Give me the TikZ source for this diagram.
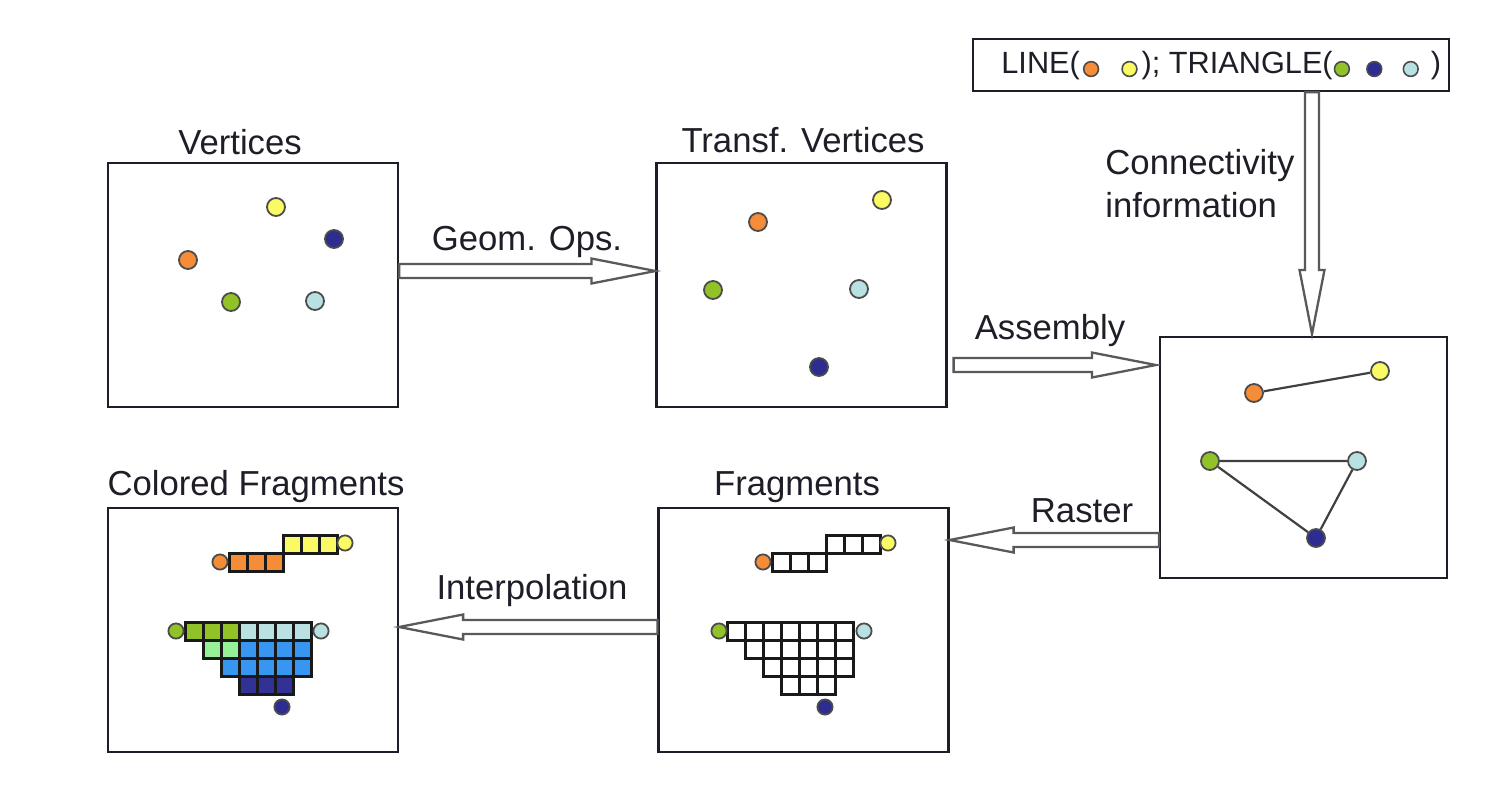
\documentclass[tikz,border=0pt]{standalone}
\usepackage{fontspec}
\setmainfont{Liberation Sans}
\usetikzlibrary{calc,positioning}

\definecolor{vorange}{RGB}{245,140,55}
\definecolor{vyellow}{RGB}{250,250,100}
\definecolor{vgreen}{RGB}{145,195,40}
\definecolor{vnavy}{RGB}{45,45,145}
\definecolor{vlblue}{RGB}{185,225,225}
\definecolor{flgreen}{RGB}{150,240,150}
\definecolor{fblue}{RGB}{55,150,240}
\definecolor{fnavy}{RGB}{50,50,150}
\definecolor{ink}{RGB}{30,30,40}

\tikzset{
  panel/.style={draw=ink, line width=1.1pt, minimum width=145pt, minimum height=122pt, inner sep=0pt},
  lbl/.style={font=\fontsize{17.35}{21.5}\selectfont, text=ink, anchor=base, inner sep=0pt},
  vtx/.style={circle, draw=black!70, line width=0.9pt, minimum size=9pt, inner sep=0pt, fill=#1},
  fvtx/.style={circle, draw=black!70, line width=0.9pt, minimum size=7.6pt, inner sep=0pt, fill=#1},
  cell/.style={draw=black!90, line width=1.5pt},
  edge/.style={draw=black!75, line width=1.1pt},
  hollow/.style={draw=black!65, line width=1.15pt, fill=white}
}

% small dot inside the text of the top box
\newcommand\vdot[1]{\tikz[baseline=-2pt]\draw[fill=#1, draw=black!70, line width=0.8pt] (0,0) circle (3.7pt);}

% hollow arrow from #1 to #2
\newcommand\fatarrow[2]{%
  \draw[hollow] let \p1=(#1), \p2=(#2), \n1={atan2(\y2-\y1,\x2-\x1)}, \n2={veclen(\x2-\x1,\y2-\y1)} in
    [shift={(\p1)}, rotate=\n1] (0pt,3.5pt) -- (\n2-32pt,3.5pt) -- (\n2-32pt,6.25pt) -- (\n2,0pt)
    -- (\n2-32pt,-6.25pt) -- (\n2-32pt,-3.5pt) -- (0pt,-3.5pt) -- cycle;}

% cells of the triangle: column/row/colour
\newcommand\trilist{0/0/vgreen,1/0/vgreen,2/0/vgreen,3/0/vlblue,4/0/vlblue,5/0/vlblue,6/0/vlblue,%
1/1/flgreen,2/1/flgreen,3/1/fblue,4/1/fblue,5/1/fblue,6/1/fblue,%
2/2/fblue,3/2/fblue,4/2/fblue,5/2/fblue,6/2/fblue,3/3/fnavy,4/3/fnavy,5/3/fnavy}

\begin{document}
\begin{tikzpicture}[x=0.5pt, y=-0.5pt]
\useasboundingbox (0,0) rectangle (1504,800);

% panels
\node[panel] (verts) at (253,285) {};
\node[panel] (tverts) at (801.5,285) {};
\node[panel, minimum width=143.5pt, minimum height=120.5pt] (asm) at (1303.5,457.5) {};
\node[panel] (cfrag) at (253,630) {};
\node[panel] (frag) at (803.5,630) {};
\node[draw=ink, line width=1.1pt, minimum width=238pt, minimum height=26pt, inner sep=0pt] (conn) at (1211,65) {};

% titles
\node[lbl] (tverts-l) at (240,154) {Vertices};
\node[lbl] (ttverts-l) at (803,152) {Transf. Vertices};
\node[lbl] (tcfrag-l) at (256,495) {Colored Fragments};
\node[lbl] (tfrag-l) at (797,495) {Fragments};

\node[anchor=base west, inner sep=0pt, text=ink, font=\fontsize{15.35}{18}\selectfont] (conn-t) at (1001,73)
  {LINE(\hspace{1.5pt}\vdot{vorange}\hspace{11pt}\vdot{vyellow}\hspace{2pt}); TRIANGLE(\hspace{0.5pt}\vdot{vgreen}\hspace{8pt}\vdot{vnavy}\hspace{10pt}\vdot{vlblue}\hspace{6pt})};

% vertices
\node[vtx=vyellow] (vy) at (276,207) {};
\node[vtx=vnavy] (vn) at (334,239) {};
\node[vtx=vorange] (vo) at (188,260) {};
\node[vtx=vgreen] (vg) at (231,302) {};
\node[vtx=vlblue] (vl) at (315,301) {};

% transformed vertices
\node[vtx=vorange] (to) at (758,222) {};
\node[vtx=vyellow] (ty) at (882,200) {};
\node[vtx=vgreen] (tg) at (713,290) {};
\node[vtx=vlblue] (tl) at (859,289) {};
\node[vtx=vnavy] (tn) at (819,367) {};

% assembled primitives
\node[vtx=vorange] (ao) at (1254,393) {};
\node[vtx=vyellow] (ay) at (1380,371) {};
\node[vtx=vgreen] (ag) at (1210,461) {};
\node[vtx=vlblue] (al) at (1357,461) {};
\node[vtx=vnavy] (an) at (1316,538) {};
\draw[edge] (ao) -- (ay);
\draw[edge] (ag) -- (al) -- (an) -- (ag);

% colored fragments
\foreach \i/\j/\c in \trilist
  \draw[cell, fill=\c] (185+18*\i,622+18*\j) rectangle ++(18,18);
\foreach \i in {0,1,2} {
  \draw[cell, fill=vorange] (229+18*\i,553) rectangle ++(18,18);
  \draw[cell, fill=vyellow] (283+18*\i,535) rectangle ++(18,18);
}
\node[fvtx=vorange] (co) at (220,562) {};
\node[fvtx=vyellow] (cy) at (345,543) {};
\node[fvtx=vgreen] (cg) at (176,631) {};
\node[fvtx=vlblue] (cl) at (321,631) {};
\node[fvtx=vnavy] (cn) at (282,707) {};

% fragments
\foreach \i/\j/\c in \trilist
  \draw[cell, fill=white] (727+18*\i,622+18*\j) rectangle ++(18,18);
\foreach \i in {0,1,2} {
  \draw[cell, fill=white] (772+18*\i,553) rectangle ++(18,18);
  \draw[cell, fill=white] (826+18*\i,535) rectangle ++(18,18);
}
\node[fvtx=vorange] (fo) at (763,562) {};
\node[fvtx=vyellow] (fy) at (888,543) {};
\node[fvtx=vgreen] (fg) at (719,631) {};
\node[fvtx=vlblue] (fl) at (864,631) {};
\node[fvtx=vnavy] (fn) at (825,707) {};

% arrows
\fatarrow{[yshift=7pt]verts.east}{[yshift=7pt]tverts.west}
\fatarrow{[xshift=3pt, yshift=-40pt]tverts.east}{[xshift=-1.5pt, yshift=46.25pt]asm.west}
\fatarrow{[xshift=50.5pt]conn.south}{[xshift=4.25pt, yshift=1pt]asm.north}
\fatarrow{[yshift=-41.25pt]asm.west}{[yshift=45pt]frag.east}
\fatarrow{[yshift=1.5pt]frag.west}{[yshift=1.5pt]cfrag.east}

% arrow labels
\node[lbl] (geom-l) at (527,250) {Geom. Ops.};
\node[lbl] (asm-l) at (1050,339) {Assembly};
\node[lbl] (ras-l) at (1082,522) {Raster};
\node[lbl] (int-l) at (532,599) {Interpolation};
\node[lbl, anchor=base west, align=left] (conn-l) at (1105,217) {Connectivity\\information};
\end{tikzpicture}
\end{document}
